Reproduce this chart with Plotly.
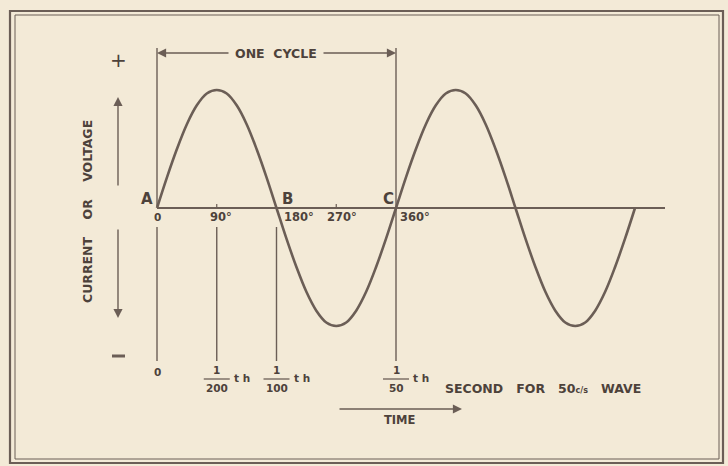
import plotly.graph_objects as go

# ---------------- data ----------------
angles_deg = [0, 15, 30, 45, 60, 75, 90, 105, 120, 135, 150, 165, 180,
              195, 210, 225, 240, 255, 270, 285, 300, 315, 330, 345, 360,
              375, 390, 405, 420, 435, 450, 465, 480, 495, 510, 525, 540,
              555, 570, 585, 600, 615, 630, 645, 660, 675, 690, 705, 720]
wave_values = [0.0, 0.26, 0.5, 0.71, 0.87, 0.97, 1.0, 0.97, 0.87, 0.71, 0.5, 0.26, 0.0,
               -0.26, -0.5, -0.71, -0.87, -0.97, -1.0, -0.97, -0.87, -0.71, -0.5, -0.26, 0.0,
               0.26, 0.5, 0.71, 0.87, 0.97, 1.0, 0.97, 0.87, 0.71, 0.5, 0.26, 0.0,
               -0.26, -0.5, -0.71, -0.87, -0.97, -1.0, -0.97, -0.87, -0.71, -0.5, -0.26, 0.0]

degree_ticks = [0, 90, 180, 270, 360]
degree_labels = ["0", "90°", "180°", "270°", "360°"]
point_angles = [0, 180, 360]
point_labels = ["A", "B", "C"]
time_angles = [90, 180, 360]
time_denominators = ["200", "100", "50"]

# ---------------- geometry helpers (pixel -> data) ----------------
W, H = 728, 466
X0_PX, PX_PER_DEG = 157.0, 239.0 / 360.0
Y0_PX, PX_PER_UNIT = 208.0, 118.0


def X(px):
    return (px - X0_PX) / PX_PER_DEG


def Y(py):
    return (Y0_PX - py) / PX_PER_UNIT


def deg_px(d):
    return X0_PX + d * PX_PER_DEG


BG = "#f3ead7"
LINE = "#6b5e56"
TEXT = "#4d423b"
FONT = "DejaVu Sans"

fig = go.Figure()

fig.add_trace(go.Scatter(
    x=angles_deg, y=wave_values, mode="lines",
    line=dict(color=LINE, width=2.6, shape="spline", smoothing=1.0),
    hoverinfo="skip", showlegend=False))

shapes = []
ann = []


def vline(xd, py1, py2, w=1.4):
    shapes.append(dict(type="line", xref="x", yref="y", x0=xd, x1=xd,
                       y0=Y(py1), y1=Y(py2), line=dict(color=LINE, width=w)))


def hline_px(px1, px2, py, w=1.4):
    shapes.append(dict(type="line", xref="x", yref="y", x0=X(px1), x1=X(px2),
                       y0=Y(py), y1=Y(py), line=dict(color=LINE, width=w)))


def text(px, py, s, size=12, bold=True, angle=0, family=FONT):
    ann.append(dict(x=X(px), y=Y(py), xref="x", yref="y", showarrow=False,
                    text=("<b>%s</b>" % s) if bold else s, textangle=angle,
                    font=dict(family=family, size=size, color=TEXT),
                    xanchor="center", yanchor="middle"))


def arrow(hx, hy, tx, ty):
    ann.append(dict(x=X(hx), y=Y(hy), ax=X(tx), ay=Y(ty), xref="x", yref="y",
                    axref="x", ayref="y", text="", showarrow=True,
                    arrowhead=2, arrowsize=1.3, arrowwidth=1.4, arrowcolor=LINE))


# horizontal axis
shapes.append(dict(type="line", xref="x", yref="y", x0=0, x1=X(665), y0=0, y1=0,
                   line=dict(color=LINE, width=1.8)))
# small ticks at 90 and 270
for d in [90, 270]:
    shapes.append(dict(type="line", xref="x", yref="y", x0=d, x1=d,
                       y0=0, y1=Y(204), line=dict(color=LINE, width=1.2)))

# vertical guide lines
vline(0, 48, 206)
vline(360, 48, 361)
for d in [0, 90, 180]:
    vline(d, 227, 361)

# one-cycle arrows
arrow(157, 53, 230, 53)
arrow(396, 53, 322, 53)
text(276, 53, "ONE  CYCLE", size=12.5)

# y-direction labels
text(118, 60, "+", size=20, bold=False)
hline_px(112, 125, 356, w=3)
arrow(118, 97, 118, 187)
arrow(118, 318, 118, 228)
text(87, 212, "CURRENT    OR    VOLTAGE", size=12.5, angle=-90)

# point labels
for d, lab, dx in zip(point_angles, point_labels, [-10, 11, -8]):
    text(deg_px(d) + dx, 199, lab, size=15)

# degree labels
deg_offsets = [0, 4, 22, 6, 19]
for d, lab, dx in zip(degree_ticks, degree_labels, deg_offsets):
    text(deg_px(d) + dx, 217, lab, size=11.5 if d else 10.5)

# time labels
text(157, 372, "0", size=10.5)
for d, den in zip(time_angles, time_denominators):
    cx = deg_px(d)
    text(cx, 370, "1", size=10.5)
    hline_px(cx - 13, cx + 13, 379, w=1.3)
    text(cx, 388, den, size=10.5)
    text(cx + 25, 378, "t h", size=10.5)

text(543, 388, "SECOND   FOR   50<span style='font-size:8px'>c/s</span>   WAVE", size=12.5)

# time arrow
arrow(462, 409, 338, 409)
text(400, 420, "TIME", size=11.5)

# border (double frame)
def rect(x0, y0, x1, y1, w):
    shapes.append(dict(type="rect", xref="paper", yref="paper",
                       x0=x0 / W, x1=x1 / W, y0=1 - y0 / H, y1=1 - y1 / H,
                       line=dict(color=LINE, width=w), fillcolor="rgba(0,0,0,0)"))

rect(10, 11, 723, 463, 2.2)
rect(15, 15, 719, 459, 1.0)

fig.update_layout(
    width=W, height=H,
    margin=dict(l=0, r=0, t=0, b=0),
    paper_bgcolor=BG, plot_bgcolor=BG,
    xaxis=dict(range=[X(0), X(W)], visible=False, fixedrange=True),
    yaxis=dict(range=[Y(H), Y(0)], visible=False, fixedrange=True),
    shapes=shapes, annotations=ann, showlegend=False,
)

fig.write_html("out.html",
               config={"displayModeBar": False},
               post_script="document.body.style.margin='0px';"
                           "document.body.style.overflow='hidden';"
                           "document.body.style.background='" + BG + "';")
